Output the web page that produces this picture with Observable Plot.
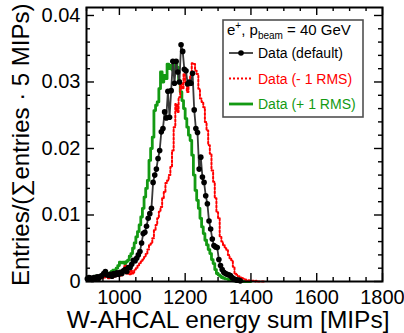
<!DOCTYPE html>
<html><head><meta charset="utf-8">
<script src="https://cdn.jsdelivr.net/npm/d3@7"></script>
<script src="https://cdn.jsdelivr.net/npm/@observablehq/plot@0.6"></script>
<style>body{margin:0;background:#fff}#chart{width:404px;height:333px}</style>
</head><body><div id="chart"></div>
<script>
// 5-MIP bins starting at 900 MIPs
const binStart = 900, binWidth = 5;
const defaultVals = [
0.0004,0.0006,0.0005,0.0003,0.0006,0.0004,0.0007,0.0005,0.0008,0.0009,0.0012,0.0015,0.0010,0.0009,0.0011,0.0008,0.0012,0.0010,0.0013,0.0011,
0.0014,0.0012,0.0016,0.0018,0.0015,0.0021,0.0021,0.0026,0.0032,0.0031,
0.0035,0.0040,0.0045,0.0058,0.0072,0.0074,0.0083,0.0095,0.0102,0.0110,
0.0149,0.0160,0.0169,0.0185,0.0197,0.0225,0.0230,0.0255,0.0246,0.0286,
0.0247,0.0287,0.0331,0.0298,0.0331,0.0315,0.0300,0.0356,0.0346,0.0319,
0.0317,0.0297,0.0300,0.0298,0.0313,0.0258,0.0230,0.0224,0.0169,0.0187,
0.0157,0.0149,0.0129,0.0117,0.0091,0.0079,0.0064,0.0054,0.0052,0.0051,
0.0033,0.0024,0.0018,0.0014,0.0012,0.0011,0.0010,0.0009,0.0006,0.0004,
0.0003,0.0002,0.0002,0.0001,0.0001,0
];
const minusVals = [
0.0003,0.0002,0.0004,0.0002,0.0003,0.0005,0.0003,0.0004,0.0006,0.0005,0.0007,0.0006,0.0008,0.0005,0.0007,0.0009,0.0006,0.0008,0.0010,0.0008,
0.0011,0.0009,0.0013,0.0024,0.0012,0.0015,0.0011,0.0016,0.0012,0.0018,
0.0020,0.0024,0.0027,0.0030,0.0033,0.0037,0.0042,0.0048,0.0055,0.0057,
0.0065,0.0077,0.0085,0.0095,0.0105,0.0112,0.0125,0.0135,0.0148,0.0152,
0.0160,0.0172,0.0197,0.0232,0.0267,0.0255,0.0277,0.0298,0.0290,0.0312,
0.0300,0.0285,0.0295,0.0310,0.0328,0.0327,0.0317,0.0312,0.0290,0.0275,
0.0270,0.0262,0.0240,0.0227,0.0205,0.0192,0.0167,0.0150,0.0125,0.0104,
0.0095,0.0067,0.0060,0.0055,0.0050,0.0047,0.0040,0.0035,0.0032,0.0022,
0.0012,0.0010,0.0008,0.0005,0.0006,0.0004,0.0003,0.0002,0.0002,0.0001,
0.0001,0.0001,0,0.0001,0,0,0,0
];
const plusVals = [
0.0005,0.0007,0.0004,0.0006,0.0005,0.0008,0.0007,0.0006,0.0009,0.0008,0.0010,0.0009,0.0012,0.0011,0.0013,0.0015,0.0017,0.0016,0.0020,0.0024,
0.0029,0.0028,0.0029,0.0027,0.0030,0.0032,0.0038,0.0042,0.0050,0.0058,
0.0067,0.0075,0.0085,0.0097,0.0110,0.0127,0.0140,0.0152,0.0182,0.0200,
0.0217,0.0257,0.0265,0.0270,0.0290,0.0315,0.0300,0.0310,0.0305,0.0327,
0.0320,0.0325,0.0318,0.0332,0.0330,0.0322,0.0302,0.0285,0.0272,0.0260,
0.0245,0.0232,0.0220,0.0212,0.0190,0.0160,0.0137,0.0122,0.0110,0.0095,
0.0082,0.0072,0.0062,0.0055,0.0048,0.0042,0.0033,0.0027,0.0018,0.0012,
0.0010,0.0008,0.0006,0.0005,0.0004,0.0004,0.0003,0.0002,0.0002,0.0001,
0.0001,0.0001,0,0,0,0,0,0,0,0
];
const xTickLabels = [1000,1200,1400,1600,1800];
const yTickLabels = [0,0.01,0.02,0.03,0.04];
const legendTitle = {main: "e", sup: "+", mid: ", p", sub: "beam", tail: " = 40 GeV"};
const seriesNames = ["Data (default)", "Data (- 1 RMS)", "Data (+ 1 RMS)"];
const xTitle = "W-AHCAL energy sum [MIPs]";
const yTitle = "Entries/(\u2211entries \u00b7 5 MIPs)";

const W = 404, H = 333, mL = 86, mR = 22, mT = 7, mB = 52;
const xDom = [900, 1800], yDom = [0, 0.0412];
const FONT = "'Liberation Sans', Arial, Helvetica, sans-serif";
const GREEN = "#139a13", RED = "#ff0000";

const centers = vals => vals.map((v, i) => ({x: binStart + binWidth * (i + 0.5), y: v}));
const edges = vals => {
  const r = vals.map((v, i) => ({x: binStart + binWidth * i, y: v}));
  r.push({x: binStart + binWidth * vals.length, y: vals[vals.length - 1]});
  return r;
};
const defRows = centers(defaultVals);
const minusRows = edges(minusVals);
const plusRows = edges(plusVals);

const yPerPx = (yDom[1] - yDom[0]) / (H - mT - mB);
const xPerPx = (xDom[1] - xDom[0]) / (W - mL - mR);
const xTicks = d3.range(0, 19).map(i => xDom[0] + i * 50);
const yTicks = d3.range(0, 21).map(i => i * 0.002);
const xLen = d => (d % 200 === 0 ? 8 : 4);
const yLen = (d, i) => (i % 5 === 0 ? 8 : 4);

const chart = Plot.plot({
  width: W, height: H,
  marginLeft: mL, marginRight: mR, marginTop: mT, marginBottom: mB,
  style: {fontFamily: FONT, background: "white"},
  x: {domain: xDom, axis: null},
  y: {domain: yDom, axis: null},
  marks: [
    Plot.line(plusRows, {x: "x", y: "y", curve: "step-after", stroke: GREEN, strokeWidth: 2.8}),
    Plot.line(minusRows, {x: "x", y: "y", curve: "step-after", stroke: RED, strokeWidth: 2, strokeDasharray: "2,2"}),
    Plot.line(defRows, {x: "x", y: "y", stroke: "#383838", strokeWidth: 1.8}),
    Plot.dot(defRows.filter(d => d.x < 1370), {x: "x", y: "y", r: 2.8, fill: "black"}),
    // ticks inside the frame
    Plot.ruleX(xTicks, {x: d => d, y1: yDom[0], y2: d => yDom[0] + xLen(d) * yPerPx, stroke: "black", strokeWidth: 1.4}),
    Plot.ruleX(xTicks, {x: d => d, y1: yDom[1], y2: d => yDom[1] - xLen(d) * yPerPx, stroke: "black", strokeWidth: 1.4}),
    Plot.ruleY(yTicks, {y: d => d, x1: xDom[0], x2: (d, i) => xDom[0] + yLen(d, i) * xPerPx, stroke: "black", strokeWidth: 1.4}),
    Plot.ruleY(yTicks, {y: d => d, x1: xDom[1], x2: (d, i) => xDom[1] - yLen(d, i) * xPerPx, stroke: "black", strokeWidth: 1.4}),
    Plot.frame({stroke: "black", strokeWidth: 2}),
    // tick labels
    Plot.text(xTickLabels, {x: d => d, frameAnchor: "bottom", lineAnchor: "bottom", dy: 22, text: d => String(d), fontSize: 20, fill: "black"}),
    Plot.text(yTickLabels, {y: d => d, frameAnchor: "left", textAnchor: "end", lineAnchor: "middle", dx: -6, text: d => d === 0 ? "0" : d.toFixed(2), fontSize: 20, fill: "black"}),
    // axis titles
    Plot.text([xTitle], {frameAnchor: "bottom-right", textAnchor: "end", lineAnchor: "bottom", dx: 7, dy: 46, text: d => d, fontSize: 24.5, fill: "black"}),
    Plot.text([yTitle], {frameAnchor: "top-left", textAnchor: "end", lineAnchor: "middle", rotate: -90, dx: -65, dy: -4, text: d => d, fontSize: 24, fill: "black"})
  ]
});
document.getElementById("chart").appendChild(chart);

// legend
const svg = d3.select(chart);
const g = svg.append("g").attr("font-family", FONT).attr("text-anchor", "start");
g.append("rect").attr("x", 223).attr("y", 20).attr("width", 140).attr("height", 97)
  .style("fill", "white").style("stroke", "#505050").style("stroke-width", "1.6px");
const t = g.append("text").attr("x", 227).attr("y", 35).attr("font-size", 15).style("fill", "black").attr("text-anchor", "start");
t.append("tspan").text(legendTitle.main);
t.append("tspan").attr("font-size", 10).attr("dy", -6).text(legendTitle.sup);
t.append("tspan").attr("dy", 6).text(legendTitle.mid);
t.append("tspan").attr("font-size", 10).attr("dy", 4).text(legendTitle.sub);
t.append("tspan").attr("dy", -4).text(legendTitle.tail);
const entries = [
  {name: seriesNames[0], color: "black", stroke: "#383838", dash: null, w: 1.8, dot: true},
  {name: seriesNames[1], color: RED, stroke: RED, dash: "2,2", w: 2, dot: false},
  {name: seriesNames[2], color: GREEN, stroke: GREEN, dash: null, w: 2.8, dot: false}
];
entries.forEach((e, i) => {
  const yy = 53 + i * 25.5;
  const ln = g.append("line").attr("x1", 229).attr("x2", 253).attr("y1", yy).attr("y2", yy)
    .style("stroke", e.stroke).style("stroke-width", e.w + "px");
  if (e.dash) ln.style("stroke-dasharray", e.dash);
  if (e.dot) g.append("circle").attr("cx", 241).attr("cy", yy).attr("r", 2.8).style("fill", "black");
  g.append("text").attr("x", 258).attr("y", yy + 5).attr("font-size", 14).attr("text-anchor", "start").style("fill", e.color).text(e.name);
});
</script>
</body></html>
